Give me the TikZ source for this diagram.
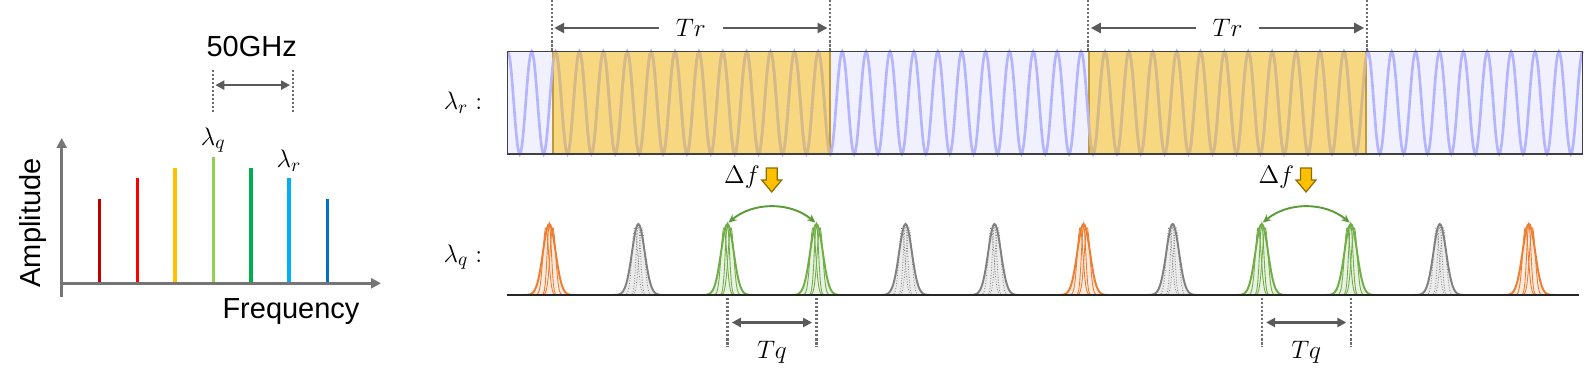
\documentclass[tikz,border=0pt]{standalone}
\usepackage{fontspec}
\setmainfont{Liberation Sans}
\usepackage{amsmath}
\usetikzlibrary{arrows.meta,shapes,positioning,calc}

\definecolor{axisgray}{HTML}{757575}
\definecolor{guidegray}{HTML}{6E6E6E}
\definecolor{arrowgray}{HTML}{5A5A5A}
\definecolor{barfill}{HTML}{F0F0FF}
\definecolor{barwave}{HTML}{B4B4FF}
\definecolor{baredge}{HTML}{404040}
\definecolor{ylw}{HTML}{F7D77F}
\definecolor{ylwedge}{HTML}{C09A38}
\definecolor{ylwwave}{HTML}{D9BA7E}
\definecolor{sp1}{HTML}{C00000}
\definecolor{sp2}{HTML}{FF0000}
\definecolor{sp3}{HTML}{FFC000}
\definecolor{sp4}{HTML}{92D050}
\definecolor{sp5}{HTML}{00B050}
\definecolor{sp6}{HTML}{00B0F0}
\definecolor{sp7}{HTML}{0070C0}
\definecolor{porange}{HTML}{ED7D31}
\definecolor{pgreen}{HTML}{70AD47}
\definecolor{pgray}{HTML}{808080}
\definecolor{arcgreen}{HTML}{5B9B3A}
\definecolor{gold}{HTML}{FFC000}
\definecolor{golddark}{HTML}{8C6D00}

\begin{document}
\begin{tikzpicture}[x=0.02cm,y=-0.02cm,
    guide/.style={draw=guidegray,line width=1.3pt,dash pattern=on 1.2pt off 1.1pt},
    dim/.style={draw=arrowgray,line width=1.5pt,-{Triangle[length=0.2cm,width=0.2cm]}},
    dimboth/.style={draw=arrowgray,line width=1.5pt,{Triangle[length=0.18cm,width=0.18cm]}-{Triangle[length=0.18cm,width=0.18cm]}},
    mlab/.style={font=\fontsize{15}{18}\selectfont},
    slab/.style={font=\fontsize{16.5}{20}\selectfont},
    dfarrow/.style={draw=golddark,fill=gold,line width=0.7pt,line join=miter},
    ginner/.style={draw=pgreen,line width=0.5pt},
    oinner/.style={draw=porange,line width=0.5pt},
    yinner/.style={draw=pgray,line width=0.5pt,densely dotted}]
      \useasboundingbox (0,0) rectangle (1595,385);

      % Spectrum
      \coordinate (o) at (61.7,283.3);
      \coordinate (ytop) at (61.7,138);
      \coordinate (ybot) at (61.7,296.7);
      \coordinate (xend) at (381,283.3);
      \foreach \x/\h/\c in {99.3/199.3/sp1,137.3/178.3/sp2,175/168.3/sp3,213.3/157.3/sp4,251/168.3/sp5,289/178.3/sp6,327.3/199.3/sp7}
        \draw[\c,line width=1.8pt] (\x,283.3) -- (\x,\h);
      \draw[axisgray,line width=1.4pt,-{Triangle[length=0.2cm,width=0.2cm]}] (ybot) -- (ytop);
      \draw[axisgray,line width=1.4pt,-{Triangle[length=0.2cm,width=0.2cm]}] (o) -- (xend);

      \node[slab,rotate=90] (amp) at (33,223) {Amplitude};
      \node[slab] (freq) at (291,312) {Frequency};
      \node[mlab] (lq) at (213.3,140) {$\lambda_q$};
      \node[mlab] (lr) at (289,161) {$\lambda_r$};

      \node[slab] (ghz) at (251.7,46.7) {50GHz};
      \coordinate (g1a) at (212.7,70);
      \coordinate (g1b) at (212.7,112);
      \coordinate (g2a) at (292.7,70);
      \coordinate (g2b) at (292.7,112);
      \draw[guide] (g1a) -- (g1b);
      \draw[guide] (g2a) -- (g2b);
      \draw[dimboth,shorten <=1.5pt,shorten >=1.5pt] ($(g1a)!0.36!(g1b)$) -- ($(g2a)!0.36!(g2b)$);

      % Reference wave with the Tr windows
      \node[mlab] (lamr) at (463,103) {$\lambda_r :$};
      \fill[barfill] (507.8,51.5) rectangle (1582.8,154);
      \filldraw[fill=ylw,draw=ylwedge,line width=0.6pt] (553,51.5) rectangle (830,154);
      \filldraw[fill=ylw,draw=ylwedge,line width=0.6pt] (1089,51.5) rectangle (1366,154);
      \draw[barwave,line width=1.5pt] plot[domain=0:282.743,samples=901,variable=\t] ({507.8+3.80206*\t},{102.75-51.25*cos(\t r)});
      \begin{scope}
        \clip (553,51.5) rectangle (830,154) (1089,51.5) rectangle (1366,154);
        \draw[ylwwave,line width=1.5pt] plot[domain=0:282.743,samples=901,variable=\t] ({507.8+3.80206*\t},{102.75-51.25*cos(\t r)});
      \end{scope}
      \draw[baredge,line width=0.6pt] (507.8,51.5) rectangle (1582.8,154);

      \foreach \i/\l/\r in {1/551.7/830,2/1088.3/1366.7}{
        \coordinate (tra\i) at (\l,0);
        \coordinate (trb\i) at (\l,51);
        \coordinate (trc\i) at (\r,0);
        \coordinate (trd\i) at (\r,51);
        \draw[guide] (tra\i) -- (trb\i);
        \draw[guide] (trc\i) -- (trd\i);
        \node[mlab,inner xsep=0.33cm] (tr\i) at ({(\l+\r)/2},28) {$Tr$};
        \draw[dim] (tr\i.west) -- ($(\l,28)+(2.5,0)$);
        \draw[dim] (tr\i.east) -- ($(\r,28)+(-2.5,0)$);
      }

      % Pulse train
      \node[mlab] (lamq) at (463,257) {$\lambda_q :$};
      \coordinate (bl) at (507,295);
      \coordinate (br) at (1579,295);
      \foreach \k/\cc/\s in {0/porange/oinner,1/pgray/yinner,2/pgreen/ginner,3/pgreen/ginner,4/pgray/yinner,5/pgray/yinner,6/porange/oinner,7/pgray/yinner,8/pgreen/ginner,9/pgreen/ginner,10/pgray/yinner,11/porange/oinner}{
        \pgfmathsetmacro\cx{549.3+89.05*\k}
        \coordinate (pk\k) at (\cx,224);
        \filldraw[fill=\cc!15,draw=\cc,line width=1.1pt] plot[domain=\cx-26:\cx+26,samples=53,variable=\t] (\t,{295-71*exp(((\t-\cx)^2)/(-80))});
        \draw[\s] plot[domain=\cx-22:\cx+22,samples=45,variable=\t] (\t,{295-68*exp(((\t-\cx+3.5)^2)/(-16))});
        \draw[\s] plot[domain=\cx-22:\cx+22,samples=45,variable=\t] (\t,{295-68*exp(((\t-\cx-3.5)^2)/(-16))});
        \draw[\s] plot[domain=\cx-22:\cx+22,samples=45,variable=\t] (\t,{295-71*exp(((\t-\cx)^2)/(-9))});
      }
      \draw[black!85,line width=1.2pt] (bl) -- (br);

      \foreach \i/\a/\b in {1/2/3,2/8/9}{
        \draw[arcgreen,line width=1.1pt,{Stealth[length=0.17cm,width=0.15cm]}-{Stealth[length=0.17cm,width=0.15cm]}] ($(pk\a)+(1,-1.3)$) .. controls +(25,-21) and +(-25,-21) .. ($(pk\b)+(-1,-1.3)$);
        \node[mlab] (df\i) at ($(pk\a)+(14.6,-46.5)$) {$\Delta f$};
        \coordinate (dfa\i) at ($(pk\a)+(44.3,-44)$);
        \filldraw[dfarrow] (dfa\i) ++(-5.5,-12) -- ++(11,0) -- ++(0,12) -- ++(4.5,0) -- ++(-10,12) -- ++(-10,-12) -- ++(4.5,0) -- cycle;
        \coordinate (tqa\i) at ($(pk\a)+(0,74)$);
        \coordinate (tqb\i) at ($(pk\a)+(0,123)$);
        \coordinate (tqc\i) at ($(pk\b)+(0,74)$);
        \coordinate (tqd\i) at ($(pk\b)+(0,123)$);
        \draw[guide] (tqa\i) -- (tqb\i);
        \draw[guide] (tqc\i) -- (tqd\i);
        \draw[dimboth,shorten <=2.5pt,shorten >=2.5pt] ($(tqa\i)!0.5!(tqb\i)$) -- ($(tqc\i)!0.5!(tqd\i)$);
        \node[mlab] (tq\i) at ($(pk\a)!0.5!(pk\b)+(0,128)$) {$Tq$};
      }
    \end{tikzpicture}
\end{document}
